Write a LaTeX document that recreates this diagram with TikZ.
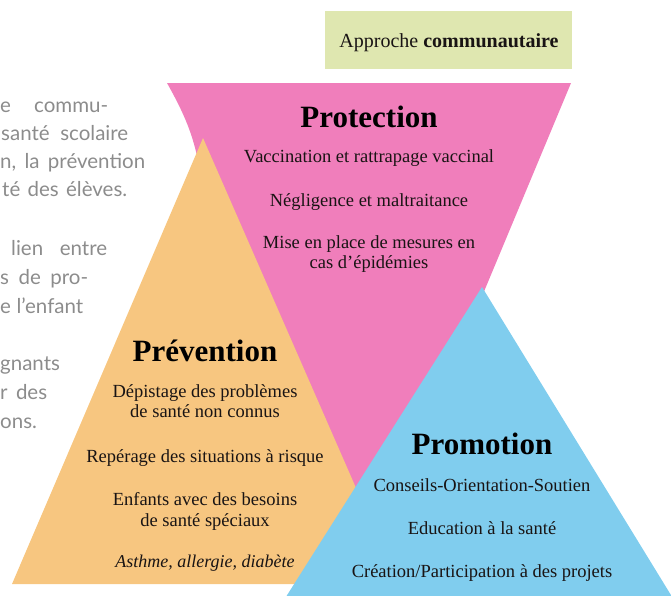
\documentclass[tikz,border=0pt]{standalone}
\usepackage{fontspec}
\setmainfont{Liberation Serif}
\newfontfamily\sidefont{Lato}
\definecolor{pinkc}{RGB}{240,126,187}
\definecolor{orangec}{RGB}{247,198,128}
\definecolor{bluec}{RGB}{128,205,238}
\definecolor{greenc}{RGB}{223,231,176}
\definecolor{sidegrey}{RGB}{140,140,140}
\definecolor{txt}{RGB}{25,20,20}
\newcommand{\sideline}[2]{\hbox to #1pt{#2}}
\begin{document}
\begin{tikzpicture}[x=1pt,y=-1pt,
 body/.style={anchor=base,inner sep=0pt,font=\fontsize{18.5}{20}\selectfont,text=txt},
 ttl/.style={anchor=base,inner sep=0pt,font=\fontsize{31}{34}\selectfont\bfseries,text=black},
 side/.style={anchor=base west,inner sep=0pt,font=\sidefont\fontsize{20.5}{22}\selectfont,text=sidegrey}]
\useasboundingbox (0,0) rectangle (671,595);
\clip (0,0) rectangle (671,595);
% side text
\node[side] (s1) at (0,112) {\sideline{108}{e\hfill commu-}};
\node[side] (s2) at (1,140) {\sideline{127}{santé\hfill scolaire}};
\node[side] (s3) at (0,168) {\sideline{145}{n,\hfill la\hfill prévention}};
\node[side] (s4) at (2,196) {\sideline{125}{té\hfill des\hfill élèves.}};
\node[side] (s5) at (11,255) {\sideline{96}{lien\hfill entre}};
\node[side] (s6) at (0,284) {\sideline{88}{s\hfill de\hfill pro-}};
\node[side] (s7) at (0,313) {\sideline{83}{e\hfill l’enfant}};
\node[side] (s8) at (0,370) {\sideline{60}{gnants}};
\node[side] (s9) at (0,399) {\sideline{47}{r\hfill des}};
\node[side] (s10) at (0,428) {\sideline{33}{ons.}};
% shapes
\fill[pinkc] (167,83) -- (571,83) -- (372,560) -- (199,165) .. controls (193,135) and (185,115) .. (167,83) -- cycle;
\fill[orangec] (203,138) -- (398,584) -- (12,584) -- cycle;
\fill[bluec] (482,287) -- (674,600) -- (284,600) -- cycle;
\fill[greenc] (325,11) rectangle (572,69);
% top label
\node[body,font=\fontsize{20}{22}\selectfont] (appr) at (449,47) {Approche \textbf{communautaire}};
% Protection
\node[ttl] (prot) at (369,127) {Protection};
\node[body] (p1) at (369,162) {Vaccination et rattrapage vaccinal};
\node[body] (p2) at (369,206) {Négligence et maltraitance};
\node[body] (p3) at (369,248) {Mise en place de mesures en};
\node[body] (p4) at (369,268) {cas d’épidémies};
% Prevention
\node[ttl] (prev) at (205,361) {Prévention};
\node[body] (v1) at (205,397) {Dépistage des problèmes};
\node[body] (v2) at (205,417) {de santé non connus};
\node[body] (v3) at (205,462) {Repérage des situations à risque};
\node[body] (v4) at (205,505) {Enfants avec des besoins};
\node[body] (v5) at (205,526) {de santé spéciaux};
\node[body,font=\fontsize{18}{20}\selectfont\itshape] (v6) at (205,567) {Asthme, allergie, diabète};
% Promotion
\node[ttl] (prom) at (482,454) {Promotion};
\node[body] (m1) at (482,491) {Conseils-Orientation-Soutien};
\node[body] (m2) at (482,534) {Education à la santé};
\node[body] (m3) at (482,577) {Création/Participation à des projets};
\end{tikzpicture}
\end{document}
